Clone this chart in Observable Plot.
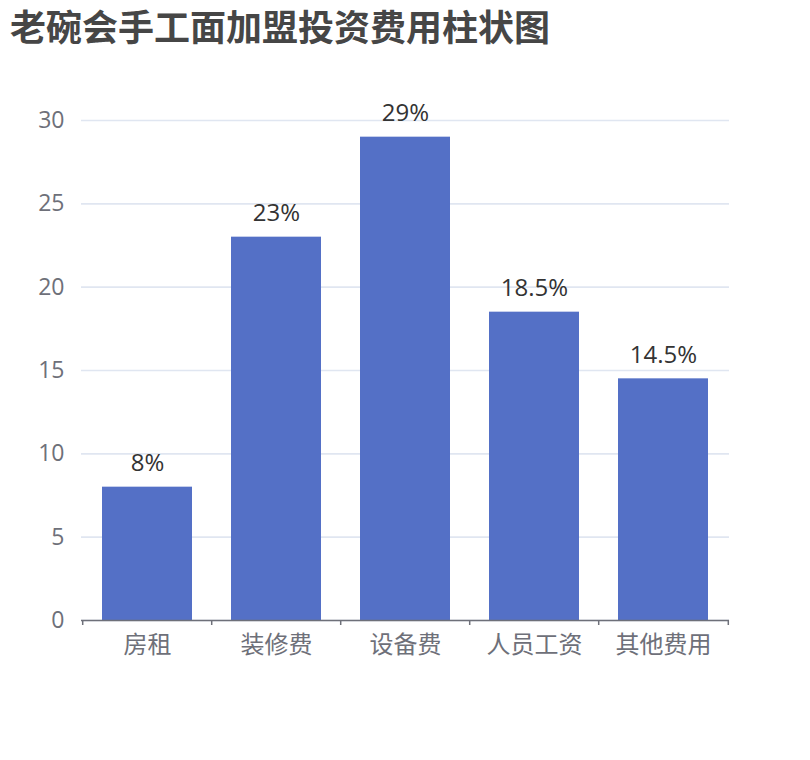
<!DOCTYPE html>
<html>
<head>
<meta charset="utf-8">
<script src="https://cdn.jsdelivr.net/npm/d3@7"></script>
<script src="https://cdn.jsdelivr.net/npm/@observablehq/plot@0.6"></script>
<style>
  html, body { margin: 0; padding: 0; background: #fff; }
  #title { box-sizing: border-box; height: 60px; padding: 7px 0 0 10px; font-family: "Noto Sans CJK SC", sans-serif; font-weight: bold; font-size: 36px; line-height: 36px; color: #464646; white-space: nowrap; }
</style>
</head>
<body>
<div id="title">老碗会手工面加盟投资费用柱状图</div>
<div id="chart"></div>
<script>
const categories = ["房租", "装修费", "设备费", "人员工资", "其他费用"];
const values = [8, 23, 29, 18.5, 14.5];
const labels = ["8%", "23%", "29%", "18.5%", "14.5%"];
const yTicks = [0, 5, 10, 15, 20, 25, 30];

const data = categories.map((c, i) => ({category: c, value: values[i], label: labels[i]}));

const W = 810, H = 700, mL = 81, mR = 81;
const step = (W - mL - mR) / categories.length;
const font = "'Open Sans', 'Noto Sans CJK SC', sans-serif";

const chart = Plot.plot({
  width: W,
  height: H,
  marginTop: 60,
  marginBottom: 140,
  marginLeft: mL,
  marginRight: mR,
  style: { fontFamily: font, fontSize: "24px", background: "#fff" },
  x: { domain: categories, paddingInner: 0.3, paddingOuter: 0.15, label: null },
  y: { domain: [0, 30], label: null },
  marks: [
    Plot.gridY(yTicks, { stroke: "#E0E6F1", strokeOpacity: 1, strokeWidth: 1.6 }),
    Plot.axisY(yTicks, { tickSize: 0, tickPadding: 17, fill: "#6E7079", fontSize: 23, label: null }),
    Plot.barY(data, { x: "category", y: "value", fill: "#5470C6" }),
    Plot.text(data, { x: "category", y: "value", text: "label", lineAnchor: "bottom", dy: -16, fill: "#333", fontSize: 24 }),
    Plot.ruleY([0], { stroke: "#6E7079", strokeWidth: 1.5 }),
    Plot.ruleX(categories, { x: d => d, y1: 0, y2: -0.3, dx: -step / 2, stroke: "#6E7079", strokeWidth: 1.5 }),
    Plot.ruleX(categories.slice(-1), { x: d => d, y1: 0, y2: -0.3, dx: step / 2, stroke: "#6E7079", strokeWidth: 1.5 }),
    Plot.axisX({ tickSize: 0, tickPadding: 15, fill: "#6E7079", fontSize: 24, label: null, fontFamily: "'Noto Sans CJK SC', sans-serif" })
  ]
});
document.getElementById("chart").appendChild(chart);
</script>
</body>
</html>
